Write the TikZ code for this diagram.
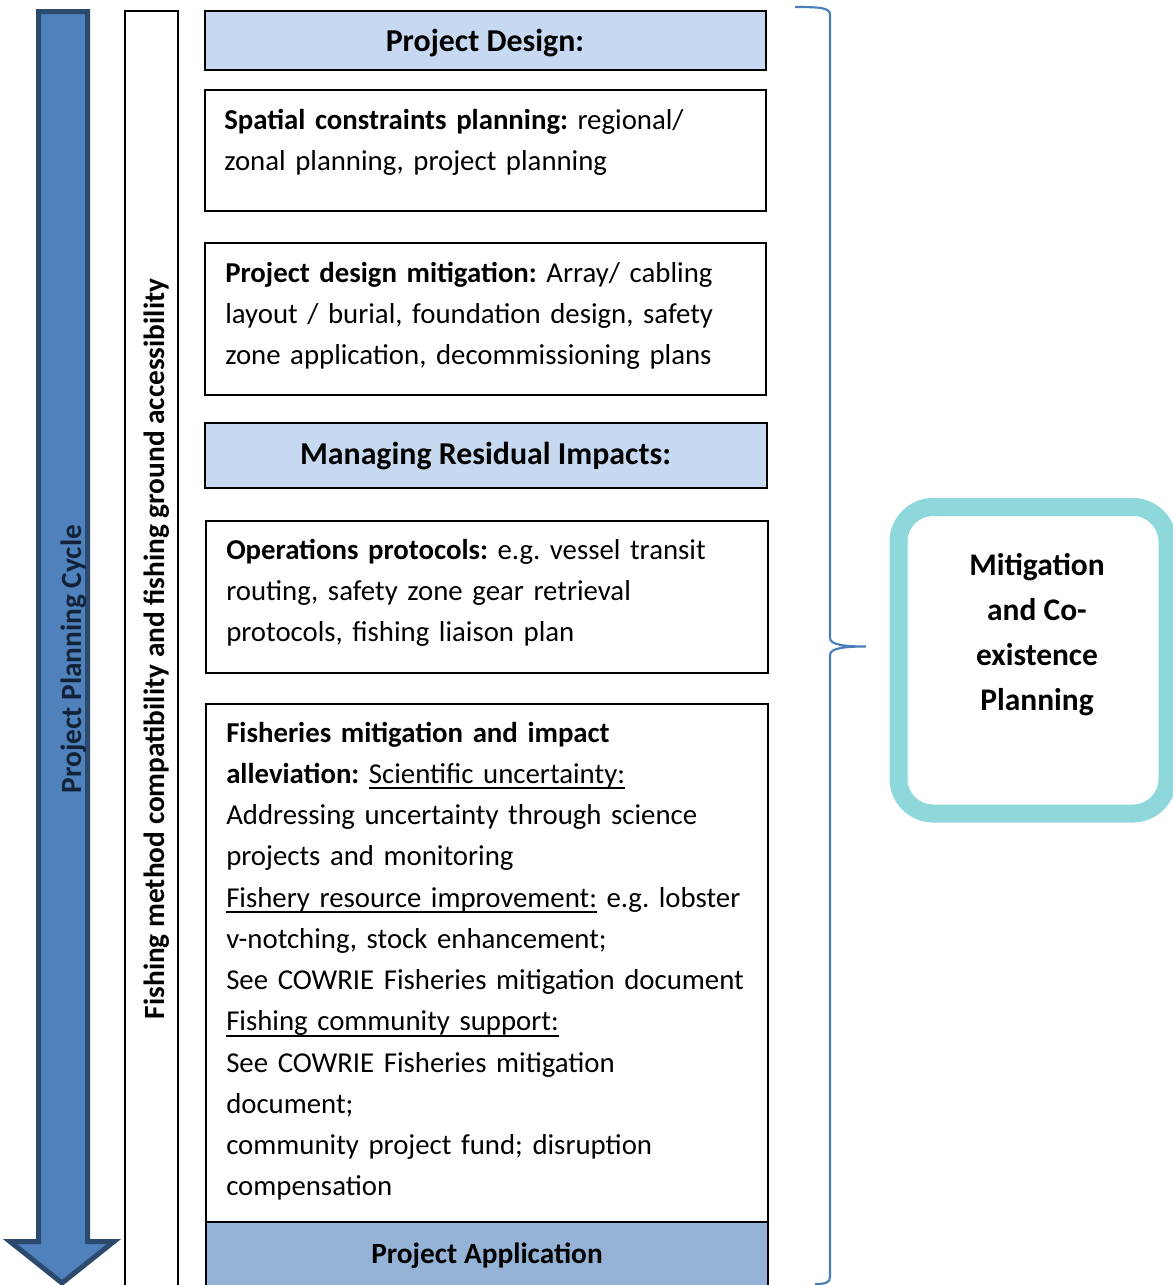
\documentclass[tikz,border=0pt]{standalone}
\usepackage{fontspec}
\setmainfont{Carlito}
\usetikzlibrary{fit}
\definecolor{arrowfill}{HTML}{4F81BD}
\definecolor{arrowline}{HTML}{2C4A6E}
\definecolor{lightblue}{HTML}{C6D9F1}
\definecolor{midblue}{HTML}{95B3D7}
\definecolor{bracecol}{HTML}{4A7EBB}
\definecolor{tealcol}{HTML}{8ED8DB}
\definecolor{navytext}{HTML}{142238}
\newcommand\myul[1]{\leavevmode\setbox0\hbox{#1}\rlap{\rule[-4.3pt]{\wd0}{1.2pt}}\box0\relax}
\begin{document}
\frenchspacing
\begin{tikzpicture}[x=0.75pt,y=-0.75pt,
  box/.style={draw=black,line width=1.5pt,inner sep=0pt},
  hdr/.style={box,fill=lightblue},
  apphdr/.style={box,fill=midblue},
  body/.style={anchor=base west,text width=410pt,align=left,inner sep=0pt,font=\fontsize{21.6}{30.95}\selectfont},
  title/.style={inner sep=0pt,font=\fontsize{23.9}{30}\selectfont\bfseries},
  apptitle/.style={inner sep=0pt,font=\fontsize{22}{30}\selectfont\bfseries},
  vtext/.style={rotate=90,inner sep=0pt,font=\fontsize{22}{30}\selectfont\bfseries},
  bigarrow/.style={fill=arrowfill,draw=arrowline,line width=3.75pt,line join=miter},
  bracestyle/.style={draw=bracecol,line width=1.6pt},
  roundbox/.style={draw=tealcol,line width=13.5pt,rounded corners=26pt,inner sep=0pt,fill=white},
  mtext/.style={align=center,inner sep=0pt,font=\fontsize{23.6}{33.75}\selectfont\bfseries}
]
\useasboundingbox (0,0) rectangle (1173,1285);
\clip (0,0) rectangle (1173,1285);

% big down arrow
\draw[bigarrow] (38.5,11.5) -- (87.5,11.5) -- (87.5,1241.5) -- (114,1241.5)
  -- (62,1283) -- (10,1241.5) -- (38.5,1241.5) -- cycle;
\node[vtext,text=navytext] (cycle) at (74,659) {Project Planning Cycle};

% white column
\node[box,fit={(125,11) (178,1300)}] (col) {};
\node[vtext] (colt) at (157,649) {Fishing method compatibility and fishing ground accessibility};

% boxes
\node[hdr,fit={(204.5,11) (766,70)}] (pd) {};
\node[title] (pdt) at (485,43) {Project Design:};

\node[box,fit={(204.5,89.5) (766,211)}] (sc) {};
\node[body] (sct) at (224,129) {\textbf{Spatial constraints planning:} regional/\\zonal planning, project planning};

\node[box,fit={(204.5,242.5) (766,395)}] (dm) {};
\node[body] (dmt) at (225,282) {\textbf{Project design mitigation:} Array/ cabling\\layout / burial, foundation design, safety\\zone application, decommissioning plans};

\node[hdr,fit={(204.5,422.5) (767,488)}] (mr) {};
\node[title] (mrt) at (485.5,456.5) {Managing Residual Impacts:};

\node[box,fit={(205.5,520.5) (768,673)}] (op) {};
\node[body] (opt) at (226,559) {\textbf{Operations protocols:} e.g. vessel transit\\routing, safety zone gear retrieval\\protocols, fishing liaison plan};

\node[box,fit={(205.5,703.5) (768,1222)}] (fm) {};
\node[body] (fmt) at (226,742) {\textbf{Fisheries mitigation and impact}\\\textbf{alleviation:} \myul{Scientific uncertainty:}\\Addressing uncertainty through science\\projects and monitoring\\\myul{Fishery resource improvement:} e.g. lobster\\v-notching, stock enhancement;\\See COWRIE Fisheries mitigation document\\\myul{Fishing community support:}\\See COWRIE Fisheries mitigation\\document;\\community project fund; disruption\\compensation};

\node[apphdr,fit={(205.5,1222) (768,1300)}] (pa) {};
\node[apptitle] (pat) at (487,1256) {Project Application};

% brace
\coordinate (btop) at (795,7);
\coordinate (btip) at (866,646.5);
\coordinate (bbot) at (815,1284);
\draw[bracestyle] (btop) .. controls (822,7) and (830,8) .. (830,15)
  -- (830,638) .. controls (830,645) and (845,646.5) .. (btip)
  .. controls (845,646.5) and (830,648) .. (830,655)
  -- (830,1277) .. controls (830,1283) and (825,1284) .. (bbot);

% right rounded box
\node[roundbox,fit={(898.5,507) (1167.5,813.5)}] (mcp) {};
\node[mtext] (mcpt) at (1037,635) {Mitigation\\and Co-\\existence\\Planning};
\end{tikzpicture}
\end{document}
